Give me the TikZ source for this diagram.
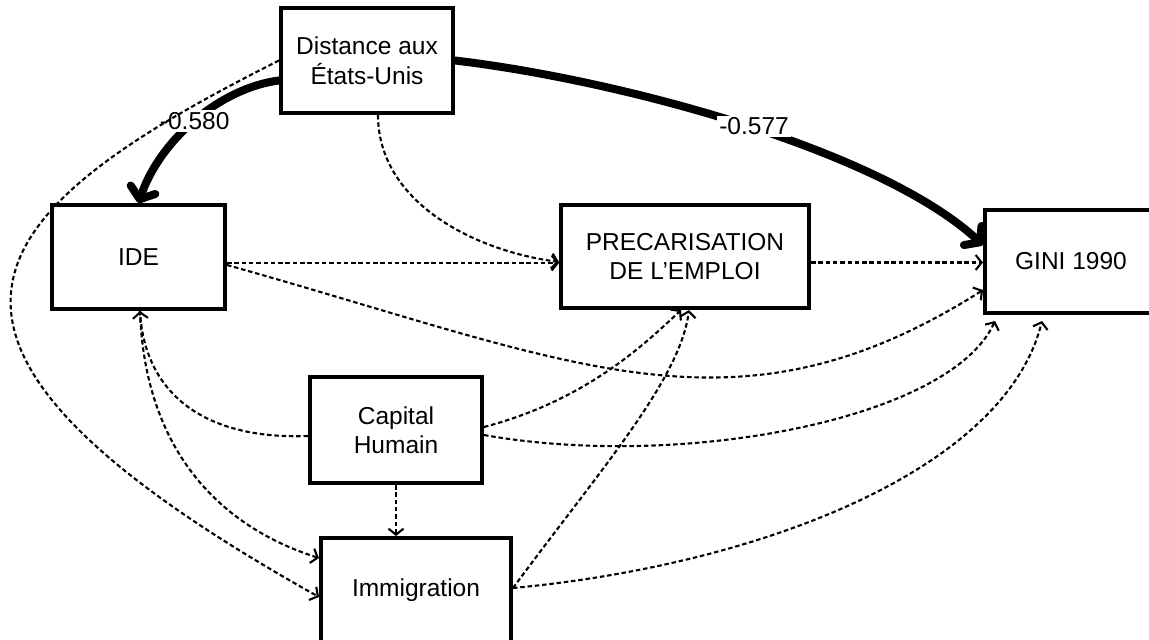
\documentclass[tikz,border=0pt]{standalone}
\usepackage{fontspec}
\setmainfont{Liberation Sans}
\usetikzlibrary{arrows.meta}
\tikzset{
  box/.style={draw, line width=4pt, inner sep=0pt, align=center, font=\fontsize{24.5}{29.5}\selectfont},
  strong/.style={line width=8pt, line cap=round, -{Straight Barb[length=10pt,width=26pt,round]}},
  weak/.style={line width=2.1pt, dash pattern=on 4.5pt off 2.8pt, -{Straight Barb[length=6pt,width=15pt]}},
  lbl/.style={fill=white, inner sep=2pt, font=\fontsize{24.5}{29}\selectfont},
}
\begin{document}
\begin{tikzpicture}[x=1pt,y=-1pt]
\useasboundingbox (0,0) rectangle (1149,640);
\clip (0,0) rectangle (1149,640);
% nodes
\node[box, minimum width=172pt, minimum height=105pt] (dist) at (367,60.5) {Distance aux\\États-Unis};
\node[box, minimum width=173pt, minimum height=104pt] (ide) at (138.5,257) {IDE};
\node[box, minimum width=248pt, minimum height=103pt] (prec) at (685,256.5) {PRECARISATION\\DE L’EMPLOI};
\node[box, minimum width=172pt, minimum height=103pt] (gini) at (1071,261.5) {GINI 1990};
\node[box, minimum width=172pt, minimum height=106pt] (cap) at (396,430) {Capital\\Humain};
\node[box, minimum width=190pt, minimum height=104pt] (imm) at (416,590) {Immigration};
% strong paths
\draw[strong] ([yshift=-20pt]dist.west) .. controls (220,88) and (160,140) .. (ide.north)
  node[lbl, pos=0.5] {-0.580};
\draw[strong] (dist.east) .. controls (620,80) and (880,150) .. ([yshift=16.5pt]gini.west)
  node[lbl, pos=0.52, yshift=2pt] {-0.577};
% weak paths
\draw[weak] ([xshift=11pt]dist.south) .. controls (378,200) and (470,250) .. ([yshift=-5.5pt]prec.west);
\draw[weak] (dist.west) .. controls (-22,212) and (-146,337) .. ([yshift=-7pt]imm.west);
\draw[weak] ([yshift=-6pt]ide.east) -- ([yshift=-6pt]ide.east -| prec.west);
\draw[weak] ([yshift=-8pt]ide.east) .. controls (576,363) and (735,447) .. ([yshift=-28.5pt]gini.west);
\draw[weak] ([yshift=-6pt]cap.west) .. controls (200,440) and (145,390) .. ([xshift=1.5pt]ide.south);
\draw[weak] ([xshift=1.5pt]ide.south) .. controls (145,460) and (230,530) .. ([yshift=32pt]imm.west);
\draw[weak] ([yshift=3pt]cap.east) .. controls (583,401) and (641,348) .. ([xshift=-4pt]prec.south);
\draw[weak] ([yshift=-5pt]cap.east) .. controls (680,470) and (950,420) .. ([xshift=-76pt,yshift=-6pt]gini.south);
\draw[weak] ([yshift=2pt]imm.east) .. controls (600,470) and (680,380) .. ([xshift=4pt]prec.south);
\draw[weak] ([yshift=2pt]imm.east) .. controls (760,565) and (1005,470) .. ([xshift=-29pt,yshift=-6pt]gini.south);
\draw[weak] ([yshift=-6pt]prec.east) -- ([yshift=-6pt]prec.east -| gini.west);
\draw[weak] (cap.south) -- (cap.south |- imm.north);
\end{tikzpicture}
\end{document}
